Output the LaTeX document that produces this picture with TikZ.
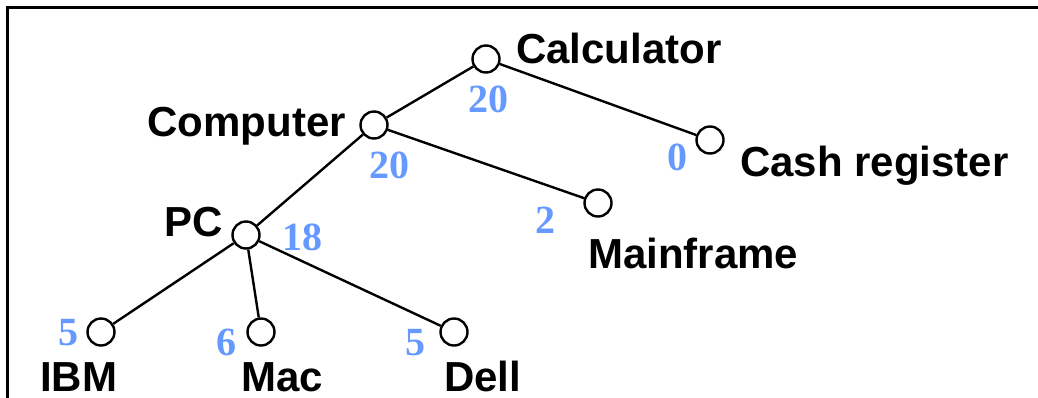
\documentclass[tikz,border=0pt]{standalone}
\usepackage{fontspec}
\setmainfont{Liberation Serif}
\setsansfont{Liberation Sans}
\usetikzlibrary{positioning}
\definecolor{numblue}{RGB}{102,153,255}

\begin{document}
\begin{tikzpicture}[x=1pt, y=-1pt,
  leaf/.style={circle, draw, line width=2.4pt, minimum size=27pt, inner sep=0pt},
  lbl/.style={font=\sffamily\bfseries\fontsize{42}{48}\selectfont, inner sep=0pt, anchor=base west},
  num/.style={font=\rmfamily\bfseries\fontsize{40}{46}\selectfont, text=numblue, inner sep=0pt, anchor=base},
  link/.style={line width=2.4pt}]

\useasboundingbox (0,0) rectangle (1038,397);
\clip (0,0) rectangle (1038,397);

% frame
\draw[line width=3pt] (7,430) -- (7,7) -- (1070,7);

% nodes
\node[leaf] (calc) at (486,59) {};
\node[leaf] (comp) at (374,125) {};
\node[leaf] (cash) at (710,140) {};
\node[leaf] (main) at (598,203) {};
\node[leaf] (pc) at (246,235) {};
\node[leaf] (ibm) at (101,332) {};
\node[leaf] (mac) at (261,332) {};
\node[leaf] (dell) at (454,332) {};

% branches
\draw[link] (calc) -- (comp);
\draw[link] (calc) -- (cash);
\draw[link] (comp) -- (pc);
\draw[link] (comp) -- (main);
\draw[link] (pc) -- (ibm);
\draw[link] (pc) -- (mac);
\draw[link] (pc) -- (dell);

% names
\node[lbl] (calc-lbl) at (516,63) {Calculator};
\node[lbl, anchor=base east] (comp-lbl) at (346,136) {Computer};
\node[lbl] (cash-lbl) at (740,176) {Cash register};
\node[lbl] (main-lbl) at (588,268) {Mainframe};
\node[lbl, anchor=base east] (pc-lbl) at (223,236) {PC};
\node[lbl] (ibm-lbl) at (40,391) {IBM};
\node[lbl] (mac-lbl) at (241,391) {Mac};
\node[lbl] (dell-lbl) at (444,391) {Dell};

% counts
\node[num] (calc-num) at (488,112) {20};
\node[num] (comp-num) at (389,178) {20};
\node[num] (cash-num) at (677,170) {0};
\node[num] (main-num) at (545,233) {2};
\node[num] (pc-num) at (302,250) {18};
\node[num] (ibm-num) at (68,345) {5};
\node[num] (mac-num) at (226,355) {6};
\node[num] (dell-num) at (415,355) {5};

\end{tikzpicture}
\end{document}
